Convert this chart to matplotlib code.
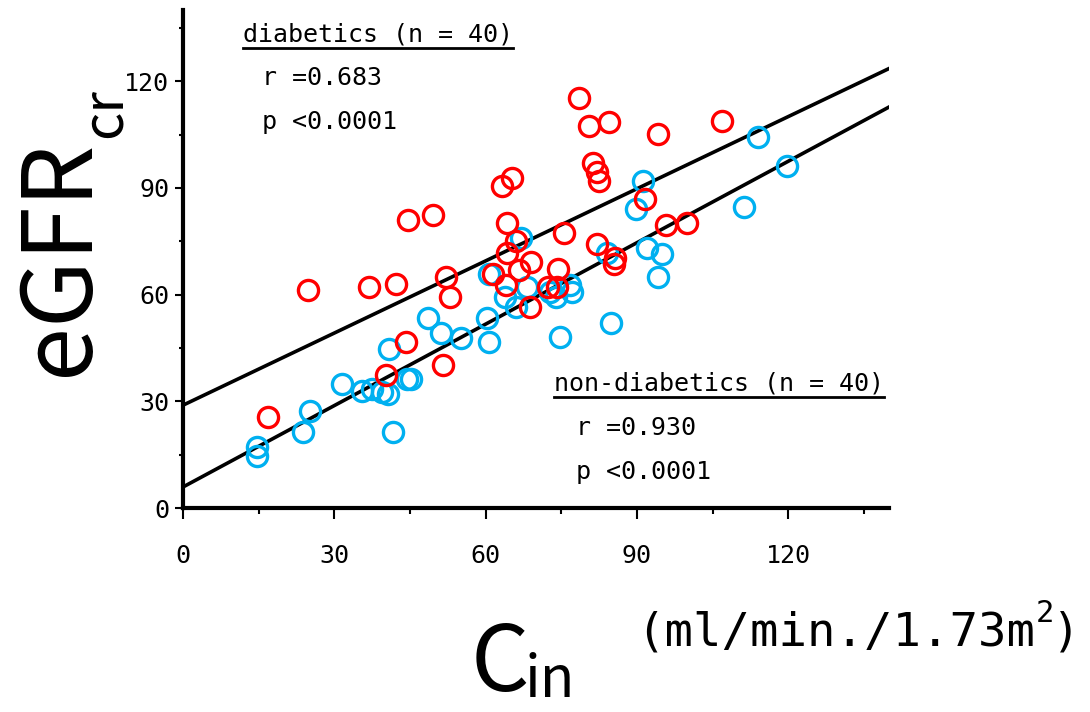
import matplotlib
matplotlib.use("Agg")
import matplotlib.pyplot as plt
from matplotlib.lines import Line2D
import numpy as np

plt.rcParams['font.family'] = ['DejaVu Sans Mono', 'Noto Sans CJK JP']

# Diabetics (red)
dia_x = [16.8, 24.8, 36.8, 42.2, 44.6, 49.5, 52.1, 52.9, 44.2, 51.5, 40.2,
         63.2, 65.3, 64.2, 75.6, 78.6, 80.6, 84.4, 81.4, 82.0, 82.4, 94.1,
         106.9, 91.7, 95.8, 100.0, 82.0, 85.7, 85.5, 66.1, 64.2, 69.1, 74.3,
         61.4, 64.0, 66.7, 72.3, 74.1, 68.9]
dia_y = [25.5, 61.4, 62.0, 63.1, 81.0, 82.4, 65.0, 59.2, 46.8, 40.1, 37.3,
         90.6, 92.8, 80.2, 77.4, 115.2, 107.4, 108.5, 97.0, 94.5, 92.0, 105.1,
         108.8, 86.9, 79.6, 80.2, 74.3, 70.4, 68.7, 75.1, 71.8, 69.2, 67.3,
         65.9, 62.8, 67.0, 62.0, 62.0, 56.4]

# Non-diabetics (blue)
non_x = [14.7, 14.7, 25.1, 23.8, 31.5, 35.4, 37.4, 39.4, 40.6, 40.8, 41.6,
         44.4, 45.3, 48.5, 51.1, 55.2, 60.2, 60.6, 63.8, 66.1, 68.3, 73.9,
         77.2, 76.8, 74.7, 84.9, 67.1, 60.6, 84.0, 91.3, 89.9, 92.1, 95.0,
         94.1, 114.1, 119.8, 111.3, 72.7]
non_y = [17.1, 14.6, 27.2, 21.3, 35.0, 32.8, 33.4, 32.5, 32.0, 44.6, 21.3,
         36.4, 36.4, 53.3, 49.1, 47.7, 53.3, 46.8, 59.4, 56.6, 62.0, 59.2,
         60.8, 62.8, 48.2, 51.9, 76.0, 65.9, 71.8, 92.0, 84.1, 73.2, 71.5,
         64.8, 104.3, 96.2, 84.7, 60.6]

# Regression lines (intercept, slope)
dia_fit = (28.9, 0.676)
non_fit = (5.9, 0.763)

ticks = [0, 30, 60, 90, 120]
minor_ticks = [15, 45, 75, 105, 135]

fig = plt.figure(figsize=(10.9, 7.12), dpi=100)
W, H = 1090, 712
ax = fig.add_axes([183 / W, 1 - 508 / H, (889 - 183) / W, (508 - 10) / H])
ax.set_xlim(0, 140)
ax.set_ylim(0, 140)

red = '#FF0000'
blue = '#00B0F0'
ms = 14.5
mew = 2.4
ax.plot(non_x, non_y, 'o', mfc='none', mec=blue, ms=ms, mew=mew, zorder=3)
ax.plot(dia_x, dia_y, 'o', mfc='none', mec=red, ms=ms, mew=mew, zorder=4)

xx = np.array([0, 140])
ax.plot(xx, dia_fit[0] + dia_fit[1] * xx, color='black', lw=2.6, zorder=2)
ax.plot(xx, non_fit[0] + non_fit[1] * xx, color='black', lw=2.6, zorder=2)

for s in ['top', 'right']:
    ax.spines[s].set_visible(False)
for s in ['left', 'bottom']:
    ax.spines[s].set_linewidth(3)
ax.set_xticks(ticks)
ax.set_yticks(ticks)
ax.set_xticks(minor_ticks, minor=True)
ax.set_yticks(minor_ticks, minor=True)
ax.tick_params(axis='both', which='major', direction='out', width=1.5, labelsize=18)
ax.tick_params(axis='x', which='major', length=8, pad=18)
ax.tick_params(axis='y', which='major', length=6, pad=4)
ax.tick_params(axis='x', which='minor', direction='out', length=4, width=1.5)
ax.tick_params(axis='y', which='minor', direction='out', length=3, width=1.5)

fs = 18
t1 = ax.text(11.9, 133, 'diabetics (n = 40)', fontsize=fs, va='center', ha='left')
ax.text(15.6, 121, 'r =0.683', fontsize=fs, va='center', ha='left')
ax.text(15.6, 108.5, 'p <0.0001', fontsize=fs, va='center', ha='left')
t2 = ax.text(73.5, 35, 'non-diabetics (n = 40)', fontsize=fs, va='center', ha='left')
ax.text(78, 22.4, 'r =0.930', fontsize=fs, va='center', ha='left')
ax.text(78, 10, 'p <0.0001', fontsize=fs, va='center', ha='left')

# axis labels
lab = ['Noto Sans CJK JP', 'DejaVu Sans']
fig.text(60 / W, 1 - 258 / H, 'eGFR', rotation=90, ha='center', va='center',
         fontsize=70, family=lab)
fig.text(105 / W, 1 - 113 / H, 'cr', rotation=90, ha='center', va='center',
         fontsize=40, family=lab)
fig.text(500 / W, 1 - 691 / H, 'C', ha='center', va='baseline', fontsize=66, family=lab)
fig.text(550 / W, 1 - 697 / H, 'in', ha='center', va='baseline', fontsize=41, family=lab)

fig.canvas.draw()
r = fig.canvas.get_renderer()

# unit label with superscript
ufs = 34
u1 = fig.text(636 / W, 1 - 646 / H, '(ml/min./1.73m', fontsize=ufs,
              ha='left', va='baseline')
fig.canvas.draw()
b1 = u1.get_window_extent(renderer=r)
u2 = fig.text((b1.x1 + 1) / W, 1 - 622 / H, '2', fontsize=22, ha='left', va='baseline')
fig.canvas.draw()
b2 = u2.get_window_extent(renderer=r)
fig.text((b2.x1 - 2) / W, 1 - 646 / H, ')', fontsize=ufs, ha='left', va='baseline')

for t in (t1, t2):
    bb = t.get_window_extent(renderer=r)
    y = (bb.y0 - 1) / H
    fig.add_artist(Line2D([bb.x0 / W, bb.x1 / W], [y, y], color='black', lw=2))

fig.savefig('out.png', dpi=100)
